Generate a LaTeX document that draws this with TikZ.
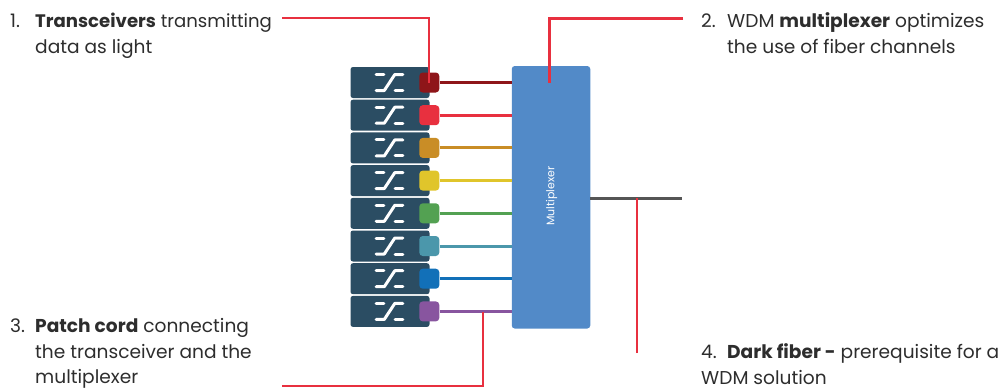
\documentclass[tikz,border=0pt]{standalone}
\usepackage{fontspec}
\setmainfont{Poppins}
\definecolor{swblue}{HTML}{2B4D63}
\definecolor{muxblue}{HTML}{528AC8}
\definecolor{callred}{HTML}{E8303F}
\definecolor{fibergray}{HTML}{555555}
\definecolor{txtgray}{HTML}{2D2D2D}
\definecolor{ch1}{HTML}{8E1519}
\definecolor{ch2}{HTML}{E8303F}
\definecolor{ch3}{HTML}{C98D26}
\definecolor{ch4}{HTML}{E0C52B}
\definecolor{ch5}{HTML}{53A152}
\definecolor{ch6}{HTML}{4B97AB}
\definecolor{ch7}{HTML}{1270B8}
\definecolor{ch8}{HTML}{88559F}
\tikzset{
	swbox/.style={fill=swblue,rounded corners=2.5pt,minimum width=79pt,minimum height=31pt,inner sep=0pt},
	portbox/.style={rounded corners=3.5pt,minimum width=20pt,minimum height=20pt,inner sep=0pt},
	callout/.style={callred,line width=2.5pt},
	swicon/.style={white,line width=3pt,line cap=round},
	lbl/.style={anchor=base west,inner sep=0pt,text=txtgray,font=\fontsize{18.6}{18.6}\selectfont}
}
\begin{document}
\begin{tikzpicture}[x=1pt,y=-1pt]
\useasboundingbox (0,0) rectangle (1005,389);
\node[fill=muxblue,rounded corners=3pt,minimum width=78.5pt,minimum height=262.5pt,inner sep=0pt] (mux) at (551,197.25) {};
\node[white,rotate=90,font=\fontsize{11}{11}\selectfont] (muxlabel) at (551.5,196) {Multiplexer};
\foreach \n/\c in {1/ch1,2/ch2,3/ch3,4/ch4,5/ch5,6/ch6,7/ch7,8/ch8}{
	\pgfmathsetmacro\ypos{82.5+(\n-1)*32.7}
	\node[swbox] (sw\n) at (390,\ypos) {};
	\node[portbox,fill=\c] (port\n) at (429.3,\ypos) {};
	\draw[\c,line width=3pt] (port\n.east) -- (port\n.east -| mux.west);
	\begin{scope}[shift={(389.3,\ypos)}]
		\draw[swicon] (-13.2,-8) -- (-5.5,-8) (5.9,8) -- (13.6,8);
		\draw[swicon,line join=round] (-13.2,8) -- (-5,8) -- (5.5,-8) -- (13.6,-8);
	\end{scope}
}
% callouts
\coordinate (c1) at (282,18);
\coordinate (c1e) at (429,83);
\coordinate (c2) at (683,18.7);
\coordinate (c2e) at (549.5,82.5);
\coordinate (c3) at (282,386);
\coordinate (c3e) at (483,312);
\coordinate (c4) at (637,353);
\coordinate (fiber) at (682,198);
\coordinate (fiberm) at (637,198);
\draw[fibergray,line width=3pt] (mux.east |- fiber) -- (fiber);
\draw[callout] (c1) -| (c1e);
\draw[callout] (c2) -| (c2e);
\draw[callout] (c3) -| (c3e);
\draw[callout] (c4) -- (fiberm);
% texts
\node[lbl] (t1a) at (10,27) {1.};
\node[lbl,font=\fontsize{18.1}{18.1}\selectfont] (t1b) at (35,27) {\textbf{Transceivers} transmitting};
\node[lbl] (t1c) at (35,53) {data as light};
\node[lbl] (t2a) at (701,27) {2.};
\node[lbl] (t2b) at (727,27) {WDM \textbf{multiplexer} optimizes};
\node[lbl] (t2c) at (727,53) {the use of fiber channels};
\node[lbl] (t3a) at (10,332) {3.};
\node[lbl] (t3b) at (35,332) {\textbf{Patch cord} connecting};
\node[lbl] (t3c) at (35,358.5) {the transceiver and the};
\node[lbl] (t3d) at (35,383) {multiplexer};
\node[lbl] (t4a) at (701,358) {4.};
\node[lbl] (t4b) at (727,358) {\textbf{Dark fiber -} prerequisite for a};
\node[lbl] (t4c) at (701,384) {WDM solution};
\end{tikzpicture}
\end{document}
